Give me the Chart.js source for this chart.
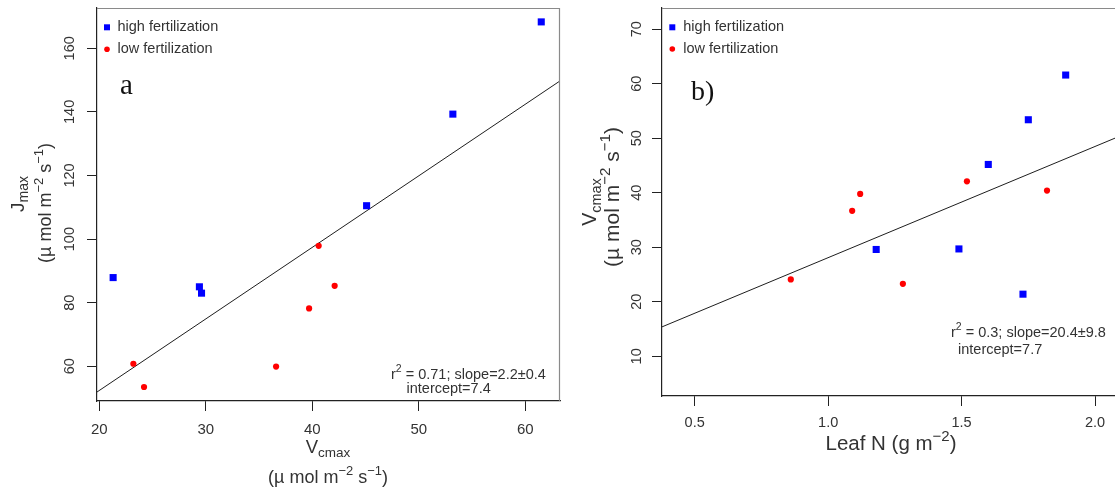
<!DOCTYPE html>
<html>
<head>
<meta charset="utf-8">
<script src="https://cdn.jsdelivr.net/npm/chart.js@4/dist/chart.umd.min.js"></script>
<style>
  html, body { margin: 0; padding: 0; background: #fff; overflow: hidden; }
  body { width: 1115px; height: 491px; position: relative; }
  canvas { position: absolute; top: 0; }
  #panelA { left: 0; }
  #panelB { left: 565px; }
</style>
</head>
<body>
<canvas id="panelA" width="565" height="491"></canvas>
<canvas id="panelB" width="600" height="491"></canvas>
<script>
// ---- Panel a: Jmax against Vcmax ----
const vcmaxHigh = [21.3, 29.4, 29.6, 45.1, 53.2, 61.5];
const jmaxHigh  = [87.9, 85.0, 83.0, 110.5, 139.3, 168.3];
const vcmaxLow  = [23.2, 24.2, 36.6, 40.6, 42.1, 39.7];
const jmaxLow   = [60.8, 53.5, 59.9, 97.9, 85.3, 78.2];
const fitA = { slope: 2.25, intercept: 7.4 };   // reported: slope=2.2±0.4, intercept=7.4
const xTicksA = [20, 30, 40, 50, 60];
const yTicksA = [60, 80, 100, 120, 140, 160];

// ---- Panel b: Vcmax against leaf N ----
const leafNHigh  = [1.18, 1.49, 1.60, 1.73, 1.75, 1.89];
const vcmaxHighB = [29.6, 29.7, 45.2, 21.4, 53.4, 61.6];
const leafNLow   = [0.86, 1.09, 1.12, 1.28, 1.52, 1.82];
const vcmaxLowB  = [24.1, 36.7, 39.8, 23.3, 42.1, 40.4];
const fitB = { slope: 20.4, intercept: 7.7 };
const xTicksB = [0.5, 1.0, 1.5, 2.0];
const yTicksB = [10, 20, 30, 40, 50, 60, 70];

const SANS = '"Liberation Sans", Arial, sans-serif';
const SERIF = '"Liberation Serif", "Times New Roman", serif';
const BLUE = '#0000ff', RED = '#ff0000', INK = '#333333';

const pts = (xs, ys) => xs.map((x, i) => ({ x, y: ys[i] }));
const fitPts = (f, lo, hi) => [{ x: lo, y: f.intercept + f.slope * lo }, { x: hi, y: f.intercept + f.slope * hi }];

// draw a run of text pieces (with sub/superscripts) centred or left-aligned at (x, y)
function drawRich(ctx, parts, x, y, align, rot) {
  ctx.save();
  ctx.translate(x, y);
  if (rot) ctx.rotate(rot);
  let w = 0;
  for (const p of parts) { ctx.font = p.s + 'px ' + (p.f || SANS); w += ctx.measureText(p.t).width; }
  let cx = align === 'left' ? 0 : -w / 2;
  ctx.textAlign = 'left';
  ctx.textBaseline = 'alphabetic';
  for (const p of parts) {
    ctx.font = p.s + 'px ' + (p.f || SANS);
    ctx.fillStyle = p.c || INK;
    ctx.fillText(p.t, cx, p.dy || 0);
    cx += ctx.measureText(p.t).width;
  }
  ctx.restore();
}
const units = (S) => [
  { t: '(µ mol m', s: S }, { t: '−2', s: S * 0.72, dy: -S * 0.42 },
  { t: ' s', s: S }, { t: '−1', s: S * 0.72, dy: -S * 0.42 }, { t: ')', s: S }
];

function overlay(cfg) {
  return {
    id: 'overlay',
    afterDraw(chart) {
      const ctx = chart.ctx, a = chart.chartArea;
      const ys = chart.scales.y;
      // frame: top and right edges
      ctx.save();
      ctx.strokeStyle = '#8a8a8a';
      ctx.lineWidth = 1.2;
      ctx.beginPath();
      ctx.moveTo(a.left, a.top + 0.5); ctx.lineTo(a.right, a.top + 0.5);
      ctx.moveTo(a.right - 0.5, a.top); ctx.lineTo(a.right - 0.5, a.bottom);
      ctx.stroke();
      ctx.restore();
      // y tick labels, parallel to the axis
      ctx.save();
      ctx.fillStyle = INK;
      ctx.font = cfg.yTickSize + 'px ' + SANS;
      ctx.textAlign = 'center';
      ctx.textBaseline = 'middle';
      for (const v of cfg.yTicks) {
        ctx.save();
        ctx.translate(a.left - cfg.yTickGap, ys.getPixelForValue(v));
        ctx.rotate(-Math.PI / 2);
        ctx.fillText(String(v), 0, 0);
        ctx.restore();
      }
      ctx.restore();
      // legend
      const L = cfg.legend;
      ctx.save();
      ctx.fillStyle = BLUE;
      ctx.fillRect(L.x - 3, L.y1 - 3, 6, 6);
      ctx.fillStyle = RED;
      ctx.beginPath(); ctx.arc(L.x, L.y2, 2.8, 0, Math.PI * 2); ctx.fill();
      ctx.fillStyle = INK;
      ctx.font = '14.5px ' + SANS;
      ctx.textBaseline = 'middle';
      ctx.fillText('high fertilization', L.tx, L.y1);
      ctx.fillText('low fertilization', L.tx, L.y2);
      ctx.restore();
      // panel tag
      ctx.save();
      ctx.fillStyle = '#111';
      ctx.font = cfg.tag.s + 'px ' + SERIF;
      ctx.fillText(cfg.tag.t, cfg.tag.x, cfg.tag.y);
      ctx.restore();
      // regression statistics
      const N = cfg.note;
      drawRich(ctx, [{ t: 'r', s: 14.5 }, { t: '2', s: 10.5, dy: -7 }, { t: ' = ' + N.r2 + '; slope=' + N.slope, s: 14.5 }], N.x1, N.y1, 'left');
      drawRich(ctx, [{ t: 'intercept=' + N.icpt, s: 14.5 }], N.x2, N.y2, 'left');
      // axis titles
      for (const t of cfg.titles) drawRich(ctx, t.parts, t.x, t.y, 'center', t.rot);
    }
  };
}

function makeChart(id, o) {
  return new Chart(document.getElementById(id), {
    type: 'scatter',
    data: {
      datasets: [
        { label: 'high fertilization', data: o.high, pointStyle: 'rect', pointRadius: 5, backgroundColor: BLUE, borderColor: BLUE, borderWidth: 0 },
        { label: 'low fertilization', data: o.low, pointStyle: 'circle', pointRadius: 3.1, backgroundColor: RED, borderColor: RED, borderWidth: 0 },
        { label: 'fit', data: o.fit, showLine: true, pointRadius: 0, borderColor: '#1e1e1e', borderWidth: 1, fill: false }
      ]
    },
    options: {
      responsive: false,
      animation: false,
      devicePixelRatio: 1,
      events: [],
      layout: { padding: o.padding },
      plugins: { legend: { display: false }, tooltip: { enabled: false } },
      scales: {
        x: {
          type: 'linear', min: o.xMin, max: o.xMax,
          afterBuildTicks: s => { s.ticks = o.xTicks.map(v => ({ value: v })); },
          afterFit: s => { s.height = o.xAxisH; },
          ticks: { color: INK, font: { family: SANS, size: o.xTickSize }, padding: o.xTickPad, maxRotation: 0, callback: o.xFmt },
          grid: { drawOnChartArea: false, tickLength: 10, color: '#222', lineWidth: 1 },
          border: { display: true, color: '#222', width: 1.2 }
        },
        y: {
          type: 'linear', min: o.yMin, max: o.yMax,
          afterBuildTicks: s => { s.ticks = o.yTicks.map(v => ({ value: v })); },
          afterFit: s => { s.width = o.yAxisW; },
          ticks: { display: false },
          grid: { drawOnChartArea: false, tickLength: 10, color: '#222', lineWidth: 1 },
          border: { display: true, color: '#222', width: 1.2 }
        }
      }
    },
    plugins: [overlay(o.overlay)]
  });
}

makeChart('panelA', {
  high: pts(vcmaxHigh, jmaxHigh),
  low: pts(vcmaxLow, jmaxLow),
  fit: fitPts(fitA, 19.785, 63.26),
  padding: { left: 0, right: 2, top: 8, bottom: 0 },
  xMin: 19.785, xMax: 63.26, yMin: 49.09, yMax: 172.67,
  xTicks: xTicksA, yTicks: yTicksA,
  xAxisH: 90, yAxisW: 97, xTickSize: 15, xTickPad: 10,
  xFmt: v => String(v),
  overlay: {
    yTicks: yTicksA, yTickSize: 14.5, yTickGap: 27,
    legend: { x: 107, y1: 27.3, y2: 49.3, tx: 117.5 },
    tag: { t: 'a', s: 29, x: 120, y: 94 },
    note: { r2: '0.71', slope: '2.2±0.4', icpt: '7.4', x1: 391, y1: 379, x2: 406.5, y2: 393 },
    titles: [
      { parts: [{ t: 'V', s: 18.5 }, { t: 'cmax', s: 13.5, dy: 4 }], x: 328, y: 453 },
      { parts: units(18), x: 328, y: 483 },
      { parts: [{ t: 'J', s: 19 }, { t: 'max', s: 14, dy: 4 }], x: 24, y: 194, rot: -Math.PI / 2 },
      { parts: units(18), x: 51, y: 203, rot: -Math.PI / 2 }
    ]
  }
});

makeChart('panelB', {
  high: pts(leafNHigh, vcmaxHighB),
  low: pts(leafNLow, vcmaxLowB),
  fit: fitPts(fitB, 0.3775, 2.17),
  padding: { left: 0, right: 25, top: 8, bottom: 0 },
  xMin: 0.3775, xMax: 0.3775 + 478 / 266.9, yMin: 2.72, yMax: 73.9,
  xTicks: xTicksB, yTicks: yTicksB,
  xAxisH: 95, yAxisW: 97, xTickSize: 14.5, xTickPad: 8.5,
  xFmt: v => v.toFixed(1),
  overlay: {
    yTicks: yTicksB, yTickSize: 14.5, yTickGap: 25,
    legend: { x: 107.3, y1: 27.3, y2: 49, tx: 118.3 },
    tag: { t: 'b)', s: 28, x: 126, y: 100 },
    note: { r2: '0.3', slope: '20.4±9.8', icpt: '7.7', x1: 386, y1: 337, x2: 393, y2: 354 },
    titles: [
      { parts: [{ t: 'Leaf N (g m', s: 20.5 }, { t: '−2', s: 15, dy: -9 }, { t: ')', s: 20.5 }], x: 326, y: 450 },
      { parts: [{ t: 'V', s: 19.5 }, { t: 'cmax', s: 14.5, dy: 4.5 }], x: 31, y: 202, rot: -Math.PI / 2 },
      { parts: units(21), x: 54, y: 197, rot: -Math.PI / 2 }
    ]
  }
});
</script>
</body>
</html>
